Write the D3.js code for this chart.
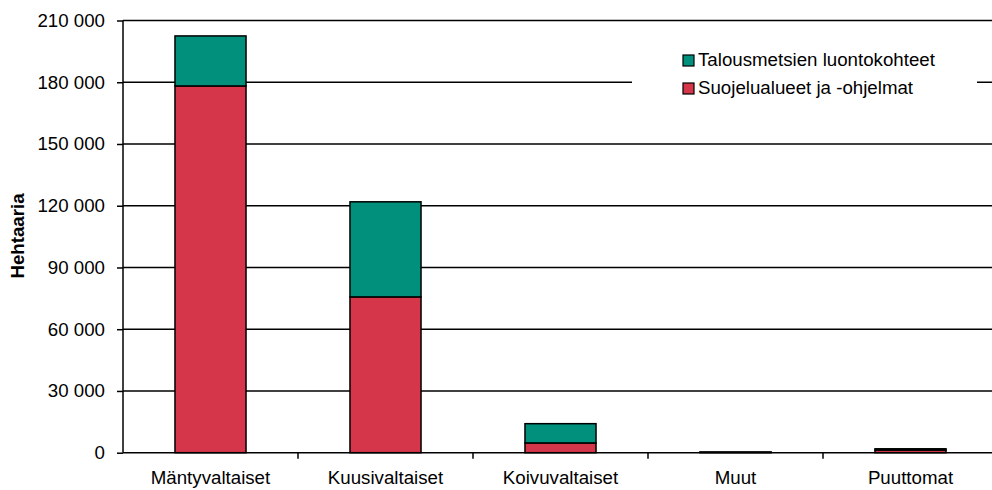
<!DOCTYPE html>
<meta charset="utf-8">
<style>
body { margin: 0; background: #fff; }
text { font-family: "Liberation Sans", Arial, sans-serif; fill: #000; }
.grid line { stroke: #000; stroke-width: 1.5px; }
.bar { stroke: #000; stroke-width: 1.5px; }
</style>
<body>
<script src="https://cdn.jsdelivr.net/npm/d3@7"></script>
<script>

// data (hectares)
var categories = ["Mäntyvaltaiset", "Kuusivaltaiset", "Koivuvaltaiset", "Muut", "Puuttomat"];
var suojelu = [178200, 75700, 4750, 200, 1300];
var talous = [24300, 46200, 9350, 150, 600];
var seriesNames = ["Suojelualueet ja -ohjelmat", "Talousmetsien luontokohteet"];
var yTicks = [0, 30000, 60000, 90000, 120000, 150000, 180000, 210000];

var colors = ["#d63649", "#00907c"];
var fontSize = "18.7px";

// plot box in page pixels
var plotLeft = 123, plotRight = 998, plotTop = 20.5, plotBottom = 452.7;

var svg = d3.select("body").append("svg")
    .attr("width", 992)
    .attr("height", 490);

var x = d3.scaleBand().domain(categories).range([plotLeft, plotRight]).padding(0);
var y = d3.scaleLinear().domain([0, 210000]).range([plotBottom, plotTop]);
var barW = x.bandwidth() * 0.406;

// gridlines
svg.append("g").attr("class", "grid")
  .selectAll("line")
  .data(yTicks.slice(1))
  .enter().append("line")
    .attr("x1", plotLeft).attr("x2", plotRight)
    .attr("y1", function(d) { return y(d); })
    .attr("y2", function(d) { return y(d); });

// stacked bars
var rows = categories.map(function(c, i) {
  return { cat: c, s0: suojelu[i], s1: talous[i] };
});
var stack = d3.stack().keys(["s0", "s1"])(rows);

svg.append("g").selectAll("g")
  .data(stack)
  .enter().append("g")
    .attr("fill", function(d, i) { return colors[i]; })
  .selectAll("rect")
  .data(function(d) { return d; })
  .enter().append("rect")
    .attr("class", "bar")
    .attr("x", function(d) { return x(d.data.cat) + (x.bandwidth() - barW) / 2; })
    .attr("width", barW)
    .attr("y", function(d) { return y(d[1]); })
    .attr("height", function(d) { return Math.max(0, y(d[0]) - y(d[1])); });

// legend, white box hides the gridline behind it
var lg = svg.append("g");
lg.append("rect")
    .attr("x", 632).attr("y", 38).attr("width", 345).attr("height", 76)
    .attr("fill", "#fff");
var legendItems = [1, 0];
legendItems.forEach(function(si, k) {
  var ly = 55 + k * 28;
  lg.append("rect")
      .attr("x", 683).attr("y", ly).attr("width", 11).attr("height", 11)
      .attr("fill", colors[si]).attr("stroke", "#000").attr("stroke-width", 1.2);
  lg.append("text")
      .attr("x", 698).attr("y", ly + 11)
      .style("font-size", fontSize)
      .text(seriesNames[si]);
});

// y axis
var fmt = function(d) { return d3.format(",")(d).replace(/,/g, " "); };
var yAxis = svg.append("g")
    .attr("transform", "translate(" + plotLeft + ",0)")
    .call(d3.axisLeft(y).tickValues(yTicks).tickSize(6).tickPadding(12).tickFormat(fmt));
yAxis.selectAll("path, line").attr("stroke", "#000").attr("stroke-width", 1.5);
yAxis.select(".domain").attr("d", "M0," + plotBottom + "V" + plotTop);
yAxis.selectAll("text")
    .style("font-size", fontSize)
    .style("font-family", "Liberation Sans, Arial, sans-serif")
    .attr("fill", "#000");

// x axis: ticks between categories, labels centred
var xAxis = svg.append("g");
xAxis.append("line")
    .attr("x1", plotLeft).attr("x2", plotRight)
    .attr("y1", plotBottom).attr("y2", plotBottom)
    .attr("stroke", "#000").attr("stroke-width", 1.5);
xAxis.selectAll(".tk")
  .data(categories.slice(1))
  .enter().append("line")
    .attr("x1", function(d) { return x(d); })
    .attr("x2", function(d) { return x(d); })
    .attr("y1", plotBottom).attr("y2", plotBottom + 6)
    .attr("stroke", "#000").attr("stroke-width", 1.5);
xAxis.selectAll(".lbl")
  .data(categories)
  .enter().append("text")
    .attr("x", function(d) { return x(d) + x.bandwidth() / 2; })
    .attr("y", 484)
    .attr("text-anchor", "middle")
    .style("font-size", fontSize)
    .text(function(d) { return d; });

// axis title
svg.append("text")
    .attr("transform", "translate(24,236) rotate(-90)")
    .attr("text-anchor", "middle")
    .style("font-size", fontSize)
    .style("font-weight", "bold")
    .text("Hehtaaria");

</script>
</body>
